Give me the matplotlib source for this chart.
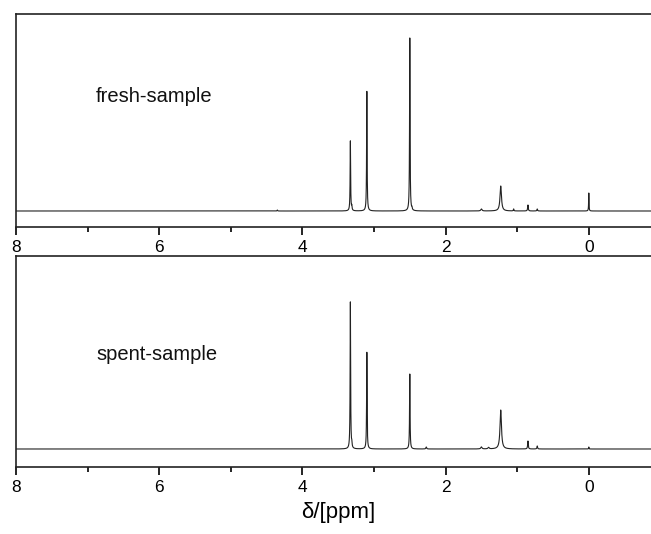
import numpy as np
import matplotlib
matplotlib.use('Agg')
import matplotlib.pyplot as plt
from matplotlib.ticker import MultipleLocator

plt.rcParams['font.family'] = ['Liberation Sans', 'DejaVu Sans']

# peak lists (ppm, height above baseline in px, half width ppm)
fresh_pos = [3.33, 3.31, 3.10, 2.50, 2.47, 1.50, 1.23, 1.05, 0.85, 0.72, 0.00, 4.35]
fresh_height = [70, 4, 120, 173, 2, 2, 25, 2, 6, 2, 18, 1]
fresh_width = [0.004, 0.004, 0.004, 0.004, 0.004, 0.01, 0.012, 0.004, 0.005, 0.005, 0.003, 0.004]

spent_pos = [3.33, 3.31, 3.10, 2.50, 2.27, 1.50, 1.40, 1.23, 0.85, 0.72, 0.00]
spent_height = [147, 4, 97, 75, 2, 2, 1.5, 39, 8, 3, 2]
spent_width = [0.004, 0.004, 0.004, 0.004, 0.006, 0.01, 0.01, 0.012, 0.005, 0.005, 0.003]

labels = ['fresh-sample', 'spent-sample']


def spectrum(x, pos, height, width):
    y = np.zeros_like(x)
    for p, h, w in zip(pos, height, width):
        y += h * w**2 / ((x - p)**2 + w**2)
    return y


x = np.linspace(8.2, -1.2, 20000)

fig = plt.figure(figsize=(6.51, 5.34), dpi=100)
H = 534.0
W = 651.0
# axes boxes in pixels: left, top, bottom
boxes = [(16, 14, 227), (16, 256, 467)]
ylims = [(-16, 197), (-18, 193)]
data = [(fresh_pos, fresh_height, fresh_width), (spent_pos, spent_height, spent_width)]
text_y = [96, 355]
ppm_px = 71.6

for i in range(2):
    left, top, bottom = boxes[i]
    right = left + 9 * ppm_px
    ax = fig.add_axes([left / W, 1 - bottom / H, (right - left) / W, (bottom - top) / H])
    pos, hgt, wid = data[i]
    ax.plot(x, spectrum(x, pos, hgt, wid), color='#222222', linewidth=0.8)
    ax.set_xlim(8, -1)
    ax.set_ylim(*ylims[i])
    ax.set_yticks([])
    ax.xaxis.set_major_locator(MultipleLocator(2))
    ax.xaxis.set_minor_locator(MultipleLocator(1))
    ax.tick_params(axis='x', which='major', direction='out', length=6, width=1.2, labelsize=12.5, pad=3.5)
    ax.tick_params(axis='x', which='minor', direction='out', length=3.5, width=1.2)
    for s in ax.spines.values():
        s.set_linewidth(1.2)
        s.set_color('#222222')
    # pixel y -> data y for label
    ty = ylims[i][0] + (bottom - text_y[i]) / (bottom - top) * (ylims[i][1] - ylims[i][0])
    tx = 8 - (96 - left) / ppm_px
    ax.text(tx, ty, labels[i], fontsize=14.5, va='center', ha='left', color='#111111')
    if i == 1:
        ax.set_xlabel('δ/[ppm]', fontsize=16, labelpad=5)

fig.savefig('out.png', dpi=100)
